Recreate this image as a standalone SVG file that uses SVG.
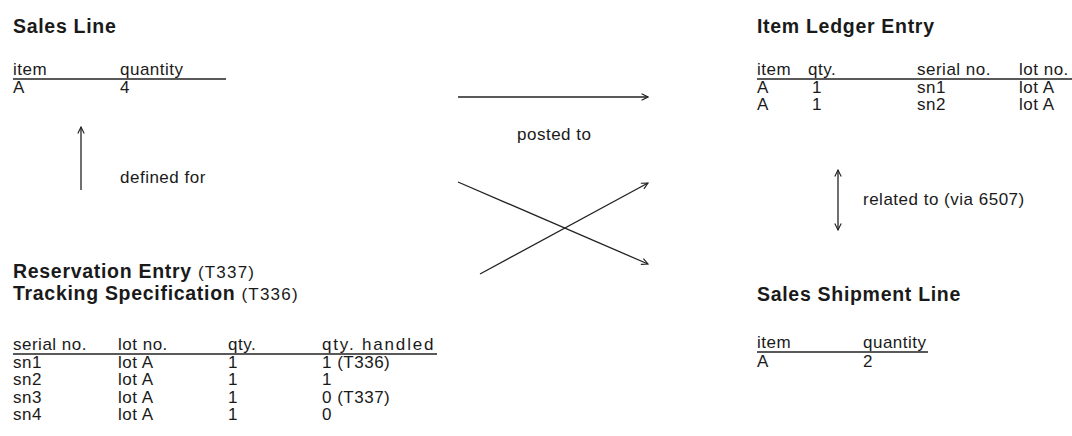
<svg xmlns="http://www.w3.org/2000/svg" width="1072" height="436" viewBox="0 0 1072 436">
<style>
text{font-family:"Liberation Sans",Arial,sans-serif;fill:#1a1a1a}
.t{font-size:19.5px;font-weight:bold;letter-spacing:0.7px}
.s{font-size:17px;font-weight:normal;letter-spacing:1.2px}
.c{font-size:17px;letter-spacing:0.5px}
.u{stroke:#222;stroke-width:1.5}
.a{stroke:#222;stroke-width:1.3;fill:none}
</style>
<defs>
<marker id="ah" viewBox="0 0 10 10" refX="9" refY="5" markerWidth="8" markerHeight="8" orient="auto-start-reverse" markerUnits="userSpaceOnUse">
<path d="M1,1 L9,5 L1,9" fill="none" stroke="#222" stroke-width="1.4"/>
</marker>
</defs>
<rect width="1072" height="436" fill="#fff"/>
<g id="sales-line">
<text class="t" x="13" y="33">Sales Line</text>
<text class="c" x="13" y="75">item</text>
<text class="c" x="120" y="75">quantity</text>
<line class="u" x1="13" y1="79" x2="226" y2="79"/>
<text class="c" x="13" y="93">A</text>
<text class="c" x="120" y="93">4</text>
</g>
<g id="item-ledger-entry">
<text class="t" x="757" y="33">Item Ledger Entry</text>
<text class="c" x="757" y="75">item</text>
<text class="c" x="808" y="75">qty.</text>
<text class="c" x="917" y="75">serial no.</text>
<text class="c" x="1019" y="75">lot no.</text>
<line class="u" x1="757" y1="79" x2="1072" y2="79"/>
<text class="c" x="757" y="93">A</text>
<text class="c" x="812" y="93">1</text>
<text class="c" x="917" y="93">sn1</text>
<text class="c" x="1019" y="93">lot A</text>
<text class="c" x="757" y="110">A</text>
<text class="c" x="812" y="110">1</text>
<text class="c" x="917" y="110">sn2</text>
<text class="c" x="1019" y="110">lot A</text>
</g>
<g id="reservation-entry">
<text class="t" x="13" y="278">Reservation Entry <tspan class="s">(T337)</tspan></text>
<text class="t" x="13" y="300">Tracking Specification <tspan class="s">(T336)</tspan></text>
<text class="c" x="13" y="350">serial no.</text>
<text class="c" x="118" y="350">lot no.</text>
<text class="c" x="228" y="350">qty.</text>
<text class="c" x="322" y="350" textLength="112" lengthAdjust="spacing">qty. handled</text>
<line class="u" x1="13" y1="354" x2="437" y2="354"/>
<text class="c" x="13" y="368">sn1</text><text class="c" x="118" y="368">lot A</text><text class="c" x="228" y="368">1</text><text class="c" x="322" y="368">1 (T336)</text>
<text class="c" x="13" y="385">sn2</text><text class="c" x="118" y="385">lot A</text><text class="c" x="228" y="385">1</text><text class="c" x="322" y="385">1</text>
<text class="c" x="13" y="403">sn3</text><text class="c" x="118" y="403">lot A</text><text class="c" x="228" y="403">1</text><text class="c" x="322" y="403">0 (T337)</text>
<text class="c" x="13" y="420">sn4</text><text class="c" x="118" y="420">lot A</text><text class="c" x="228" y="420">1</text><text class="c" x="322" y="420">0</text>
</g>
<g id="sales-shipment-line">
<text class="t" x="757" y="301">Sales Shipment Line</text>
<text class="c" x="757" y="348">item</text>
<text class="c" x="863" y="348">quantity</text>
<line class="u" x1="757" y1="352" x2="928" y2="352"/>
<text class="c" x="757" y="367">A</text>
<text class="c" x="863" y="367">2</text>
</g>
<g id="connectors">
<line class="a" x1="81" y1="190" x2="81" y2="127" marker-end="url(#ah)"/>
<text class="c" x="120" y="183">defined for</text>
<line class="a" x1="458" y1="97" x2="648" y2="97" marker-end="url(#ah)"/>
<text class="c" x="517" y="140">posted to</text>
<line class="a" x1="458" y1="182" x2="648" y2="264" marker-end="url(#ah)"/>
<line class="a" x1="480" y1="274" x2="648" y2="183" marker-end="url(#ah)"/>
<line class="a" x1="838" y1="170" x2="838" y2="230" marker-start="url(#ah)" marker-end="url(#ah)"/>
<text class="c" x="863" y="205">related to (via 6507)</text>
</g>
</svg>
